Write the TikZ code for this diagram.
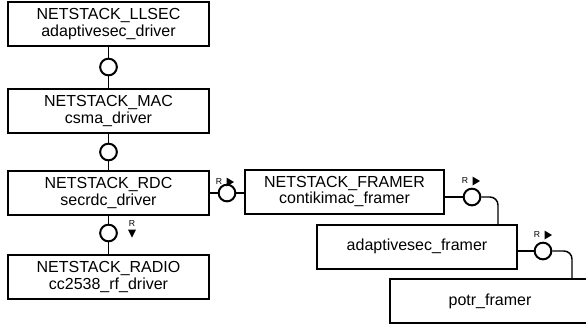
\documentclass[tikz,border=0pt]{standalone}
\usepackage{fontspec}
\setmainfont{Liberation Sans}
\begin{document}
\begin{tikzpicture}[x=0.75pt,y=-0.75pt,
  blk/.style={draw=black,line width=1.5pt,fill=white,inner sep=0pt,align=center,
    font=\fontsize{12}{12.75}\selectfont,minimum height=33pt},
  iface/.style={circle,draw=black,line width=1.5pt,fill=white,inner sep=0pt,minimum size=12.5pt},
  conn/.style={line width=1.1pt},
  rlab/.style={inner sep=0pt,font=\fontsize{6.5}{7}\selectfont}]
\useasboundingbox (0,0) rectangle (586,329);
\clip (0,0) rectangle (586,329);
% boxes
\node[blk,minimum width=150.75pt] (llsec) at (108.5,24) {NETSTACK\_LLSEC\\adaptivesec\_driver};
\node[blk,minimum width=150.75pt] (mac) at (108.5,110.5) {NETSTACK\_MAC\\csma\_driver};
\node[blk,minimum width=150.75pt] (rdc) at (108.5,193) {NETSTACK\_RDC\\secrdc\_driver};
\node[blk,minimum width=150.75pt] (radio) at (108.5,277) {NETSTACK\_RADIO\\cc2538\_rf\_driver};
\node[blk,minimum width=149.25pt] (framer) at (344.5,191.5) {NETSTACK\_FRAMER\\contikimac\_framer};
\node[blk,minimum width=150pt] (adapt) at (417,246.5) {adaptivesec\_framer};
\node[blk,minimum width=150pt] (potr) at (490,301) {potr\_framer};
% interface circles
\node[iface] (c1) at (108.5,67) {};
\node[iface] (c2) at (108.5,152) {};
\node[iface] (c3) at (108.5,233) {};
\node[iface] (c4) at (227,193) {};
\node[iface] (c5) at (472,197) {};
\node[iface] (c6) at (543,251) {};
% connectors
\draw[conn] (llsec.south) -- (c1.north);
\draw[conn] (c1.south) -- (mac.north);
\draw[conn] (mac.south) -- (c2.north);
\draw[conn] (c2.south) -- (rdc.north);
\draw[conn] (rdc.south) -- (c3.north);
\draw[conn] (c3.south) -- (radio.north);
\draw[conn] (rdc.east |- c4) -- (c4.west);
\draw[conn] (c4.east) -- (framer.west |- c4);
\coordinate (k1) at (498,224);
\coordinate (k2) at (572,279);
\draw[conn] (framer.east |- c5) -- (c5.west);
\draw[conn,rounded corners=6pt] (c5.east) -| (k1);
\draw[conn] (adapt.east |- c6) -- (c6.west);
\draw[conn,rounded corners=6pt] (c6.east) -| (k2);
% R labels
\node[rlab] (r1) at (219,182) {R};
\coordinate (t1) at (230,182);
\fill[shift={(t1)}] (-3.5,-4.5) -- (4,0) -- (-3.5,4.5) -- cycle;
\node[rlab] (r2) at (132,224) {R};
\coordinate (t2) at (132,233);
\fill[shift={(t2)}] (-4,-3.5) -- (4,-3.5) -- (0,4.5) -- cycle;
\node[rlab] (r3) at (465,181) {R};
\coordinate (t3) at (476,181);
\fill[shift={(t3)}] (-3.5,-4.5) -- (4,0) -- (-3.5,4.5) -- cycle;
\node[rlab] (r4) at (537,235) {R};
\coordinate (t4) at (548,235);
\fill[shift={(t4)}] (-3.5,-4.5) -- (4,0) -- (-3.5,4.5) -- cycle;
\end{tikzpicture}
\end{document}
